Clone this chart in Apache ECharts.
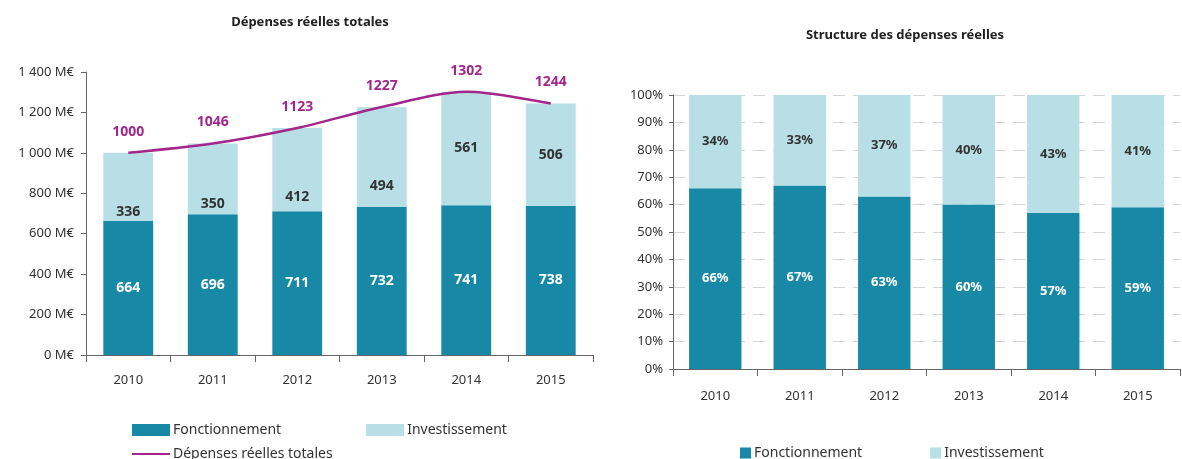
<!DOCTYPE html>
<html>
<head>
<meta charset="utf-8">
<script src="https://cdn.jsdelivr.net/npm/echarts@6/dist/echarts.min.js"></script>
<style>
  html, body { margin: 0; padding: 0; background: #fff; }
  #chart { width: 1182px; height: 459px; }
</style>
</head>
<body>
<div id="chart"></div>
<script>
const annees = ["2010", "2011", "2012", "2013", "2014", "2015"];
const fonctionnement = [664, 696, 711, 732, 741, 738];
const investissement = [336, 350, 412, 494, 561, 506];
const totales = [1000, 1046, 1123, 1227, 1302, 1244];
const partFonct = [66, 67, 63, 60, 57, 59];
const partInvest = [34, 33, 37, 40, 43, 41];

const BLEU = "#1789a7";
const CLAIR = "#b7dfe5";
const MAGENTA = "#a3278a";
const POLICE = "Noto Sans";

// décalage vertical des étiquettes d'investissement (déplacées sous la courbe)
const decalInvest = [25, 25, 27, 29, 0, 0];

function dibujar() {
  const chart = echarts.init(document.getElementById("chart"));

  const txt = { fontFamily: POLICE, fontSize: 13, color: "#333" };

  const option = {
    animation: false,
    textStyle: { fontFamily: POLICE },
    title: [
      { text: "Dépenses réelles totales", left: 305, top: 11, textAlign: "center",
        textStyle: { fontFamily: POLICE, fontSize: 13, fontWeight: "bold", color: "#222" } },
      { text: "Structure des dépenses réelles", left: 900, top: 24, textAlign: "center",
        textStyle: { fontFamily: POLICE, fontSize: 13, fontWeight: "bold", color: "#222" } }
    ],
    legend: [
      { left: 127, top: 418, itemWidth: 38, itemHeight: 12, itemGap: 85, icon: "rect",
        data: ["Fonctionnement", "Investissement"], textStyle: { ...txt, fontSize: 14, padding: [0, 0, 0, -2] } },
      { left: 127, top: 442, itemWidth: 38, itemHeight: 2, icon: "rect",
        data: ["Dépenses réelles totales"], textStyle: { ...txt, fontSize: 14, padding: [0, 0, 0, -2] } },
      { left: 735, top: 441, itemWidth: 11, itemHeight: 11, itemGap: 68, icon: "rect",
        data: ["Fonctionnement", "Investissement"], textStyle: { ...txt, fontSize: 14, padding: [0, 0, 0, -2] } }
    ],
    grid: [
      { left: 86, right: 589, top: 72, bottom: 104 },
      { left: 673, right: 2, top: 95, bottom: 90 }
    ],
    xAxis: [
      { type: "category", gridIndex: 0, data: annees,
        axisLine: { lineStyle: { color: "#666" } },
        axisTick: { show: true, length: 7, lineStyle: { color: "#666" } },
        axisLabel: { ...txt, margin: 19 } },
      { type: "category", gridIndex: 1, data: annees,
        axisLine: { lineStyle: { color: "#666" } },
        axisTick: { show: true, length: 7, lineStyle: { color: "#666" } },
        axisLabel: { ...txt, margin: 21 } }
    ],
    yAxis: [
      { type: "value", gridIndex: 0, min: 0, max: 1400, interval: 200,
        axisLine: { show: true, lineStyle: { color: "#666" } },
        axisTick: { show: true, length: 5, lineStyle: { color: "#666" } },
        splitLine: { show: false },
        axisLabel: { ...txt, margin: 12,
          formatter: v => String(v).replace(/\B(?=(\d{3})+(?!\d))/g, " ") + " M€" } },
      { type: "value", gridIndex: 1, min: 0, max: 100, interval: 10,
        axisLine: { show: true, lineStyle: { color: "#666" } },
        axisTick: { show: true, length: 4, lineStyle: { color: "#666" } },
        splitLine: { show: true, lineStyle: { color: "#d4d4d4", type: [12, 8] } },
        axisLabel: { ...txt, margin: 10, formatter: "{value}%" } }
    ],
    series: [
      { name: "Fonctionnement", type: "bar", stack: "g", xAxisIndex: 0, yAxisIndex: 0,
        barWidth: "59%", itemStyle: { color: BLEU }, data: fonctionnement,
        label: { show: true, position: "inside", color: "#fff", fontWeight: "bold",
          fontFamily: POLICE, fontSize: 14 } },
      { name: "Investissement", type: "bar", stack: "g", xAxisIndex: 0, yAxisIndex: 0,
        barWidth: "59%", itemStyle: { color: CLAIR },
        data: investissement.map((v, i) => ({ value: v, label: { offset: [0, decalInvest[i]] } })),
        label: { show: true, position: "inside", color: "#333", fontWeight: "bold",
          fontFamily: POLICE, fontSize: 14 } },
      { name: "Dépenses réelles totales", type: "line", xAxisIndex: 0, yAxisIndex: 0,
        smooth: 0.3, symbol: "circle", symbolSize: 0.1, data: totales,
        lineStyle: { color: MAGENTA, width: 2.5 }, itemStyle: { color: MAGENTA },
        label: { show: true, position: "top", distance: 14, color: MAGENTA,
          fontWeight: "bold", fontFamily: POLICE, fontSize: 14 } },
      { name: "Fonctionnement", type: "bar", stack: "p", xAxisIndex: 1, yAxisIndex: 1,
        barWidth: "62%", itemStyle: { color: BLEU }, data: partFonct,
        label: { show: true, position: "inside", color: "#fff", fontWeight: "bold",
          fontFamily: POLICE, fontSize: 13, formatter: "{c}%" } },
      { name: "Investissement", type: "bar", stack: "p", xAxisIndex: 1, yAxisIndex: 1,
        barWidth: "62%", itemStyle: { color: CLAIR }, data: partInvest,
        label: { show: true, position: "inside", color: "#333", fontWeight: "bold",
          fontFamily: POLICE, fontSize: 13, formatter: "{c}%" } }
    ]
  };

  chart.setOption(option);
  window.addEventListener("resize", () => chart.resize());
}

document.addEventListener("DOMContentLoaded", dibujar);
</script>
</body>
</html>
